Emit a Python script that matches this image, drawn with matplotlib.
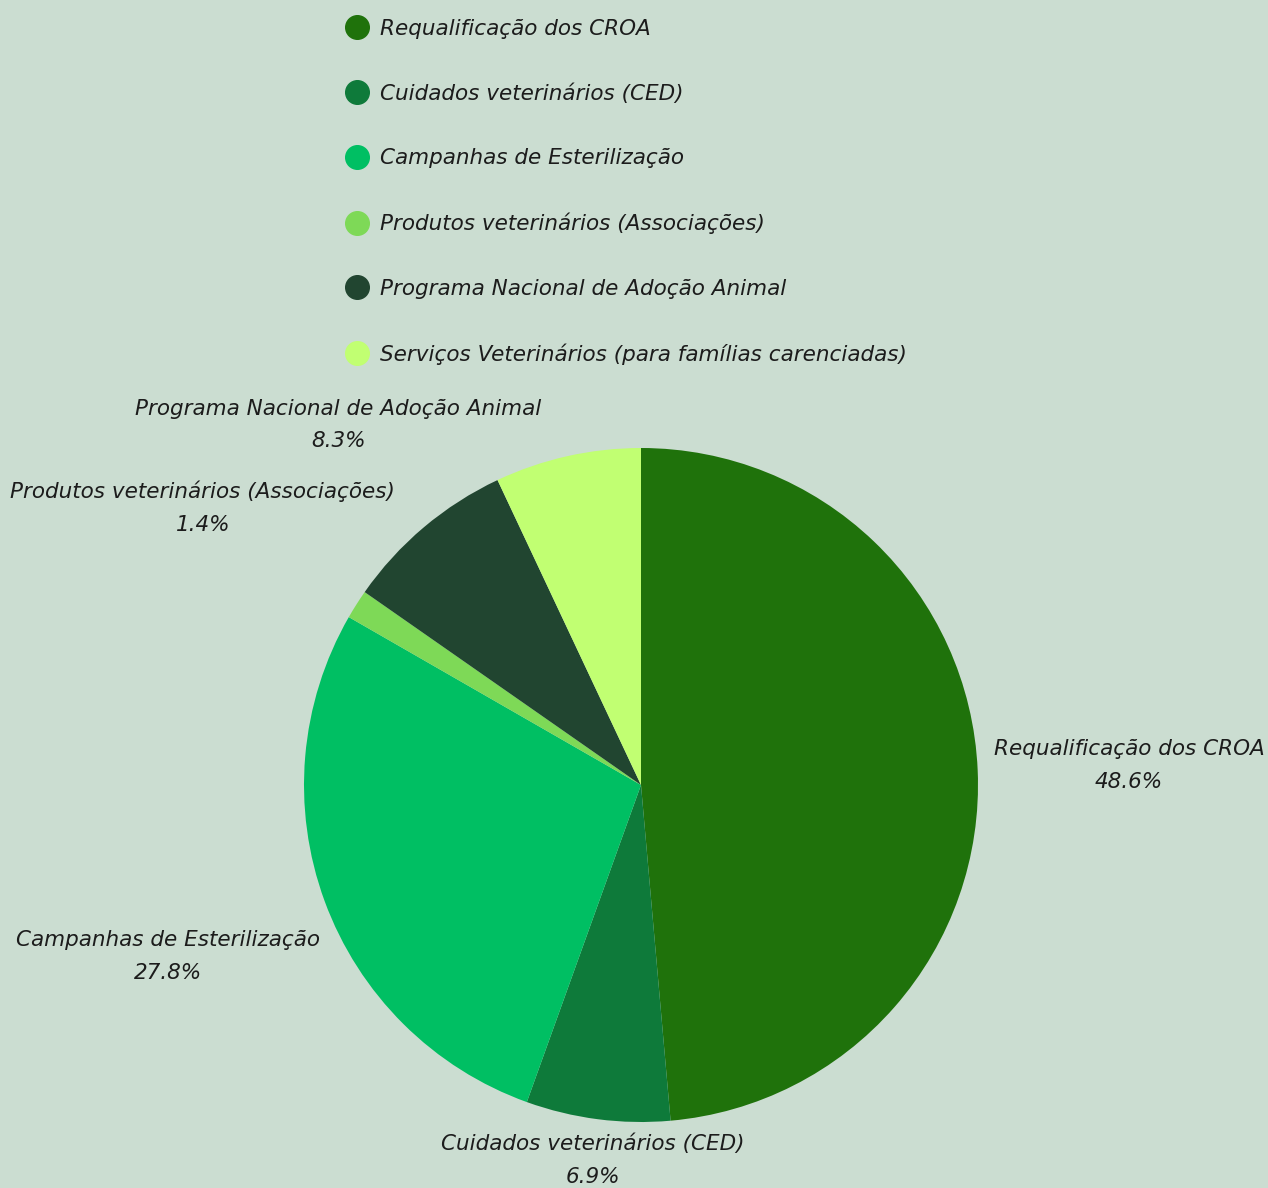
import matplotlib.pyplot as plt
from matplotlib.lines import Line2D

categories = [
    "Requalificação dos CROA",
    "Cuidados veterinários (CED)",
    "Campanhas de Esterilização",
    "Produtos veterinários (Associações)",
    "Programa Nacional de Adoção Animal",
    "Serviços Veterinários (para famílias carenciadas)",
]
values = [48.6, 6.9, 27.8, 1.4, 8.3, 7.0]
colors = ["#1f720b", "#0e7a3a", "#00bf63", "#7ed957", "#214530", "#c1ff72"]

# label anchors (pie radius = 1), Serviços has no label in the original
label_xy = [(1.448, 0.059), (-0.142, -1.113), (-1.404, -0.510),
            (-1.300, 0.822), (-0.899, 1.068), None]

bg = "#cbddd1"
W, H = 1268, 1188
cx, cy, r = 641, 785, 337

fig = plt.figure(figsize=(W / 100, H / 100), dpi=100, facecolor=bg)
ax = fig.add_axes([0, 0, 1, 1])
ax.set_facecolor(bg)
ax.axis("off")

ax.pie(values, colors=colors, startangle=90, counterclock=False, radius=1,
       wedgeprops=dict(linewidth=0))
ax.set_xlim(-cx / r, (W - cx) / r)
ax.set_ylim(-(H - cy) / r, cy / r)

txt = dict(fontsize=15.5, style="italic", color="#1c1c1c", family="DejaVu Sans")
for name, v, xy in zip(categories, values, label_xy):
    if xy is None:
        continue
    ax.text(xy[0], xy[1], f"{name}\n{v:.1f}%", ha="center", va="center",
            multialignment="center", linespacing=1.8, **txt)

handles = [Line2D([], [], marker="o", linestyle="", markersize=17,
                  markerfacecolor=c, markeredgecolor=c) for c in colors]
leg = fig.legend(handles, categories, loc="upper left",
                 bbox_to_anchor=(335 / W, 1 - 8 / H), frameon=False,
                 labelspacing=2.065, handlelength=1.0, handletextpad=0.6,
                 borderpad=0,
                 prop=dict(size=15.5, style="italic", family="DejaVu Sans"))
for t in leg.get_texts():
    t.set_color("#1c1c1c")

fig.savefig("out.png", dpi=100, facecolor=bg)
